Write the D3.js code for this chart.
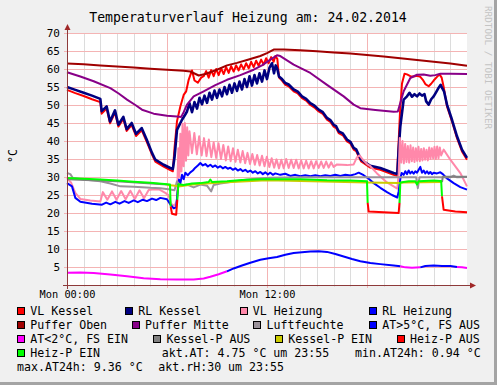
<!DOCTYPE html>
<html><head><meta charset="utf-8">
<script src="https://cdn.jsdelivr.net/npm/d3@7"></script>
<style>body{margin:0;background:#f0f0f0}svg{display:block}</style>
</head><body><svg id="c" width="497" height="385"></svg>
<script>
const title = "Temperaturverlauf Heizung am: 24.02.2014";
const unitLabel = "°C";
const watermark = "RRDTOOL / TOBI OETIKER";
const yTicks = [5,10,15,20,25,30,35,40,45,50,55,60,65,70];
const xTickHours = [0,12];
const xTickLabels = ["Mon 00:00","Mon 12:00"];
const legendNames = ["VL Kessel","RL Kessel","VL Heizung","RL Heizung","Puffer Oben","Puffer Mitte","Luftfeuchte","AT>5°C, FS AUS","AT<2°C, FS EIN","Kessel-P AUS","Kessel-P EIN","Heiz-P AUS","Heiz-P EIN"];
const legendColors = ["#ff0000","#000080","#ff88aa","#0000ff","#a00000","#880088","#9a929a","#0000ff","#ff00ff","#808080","#cccc00","#ff0000","#00ff00"];
const infoTexts = ["akt.AT: 4.75 °C um 23:55","min.AT24h: 0.94 °C","max.AT24h: 9.36 °C","akt.rH:30 um 23:55"];

// [hour, value]
const vlKessel = [[0,54.2],[0.5,53.3],[1,52.5],[1.5,51.6],[2.0,50.8],[2.08,47.6],[2.38,49.0],[2.58,44.9],[2.88,47.9],[3.08,44.0],[3.38,46.1],[3.58,42.8],[3.88,44.4],[4.14,41.4],[4.48,43.0],[4.78,39.8],[5.1,36.2],[5.3,34.3],[5.8,32.9],[6.2,31.9],[6.35,31.6],[6.45,38.0],[6.6,45.5],[6.8,49.6],[7.0,52.8],[7.15,53.8],[7.3,57.0],[7.5,59.6],[7.65,56.8],[7.85,56.2],[8.05,57.6],[8.2,58.0],[8.35,59.4],[8.5,57.6],[8.65,59.7],[8.8,58.0],[8.95,60.0],[9.1,58.3],[9.25,60.2],[9.4,58.6],[9.55,60.5],[9.7,58.9],[9.85,60.8],[10.0,59.3],[10.15,61.0],[10.3,59.6],[10.45,61.3],[10.6,59.9],[10.75,61.6],[10.9,60.2],[11.05,62.0],[11.2,60.5],[11.35,62.3],[11.5,60.9],[11.65,62.6],[11.8,61.2],[11.95,63.0],[12.1,61.6],[12.25,63.3],[12.4,62.0],[12.5,63.6],[12.62,62.8],[12.72,57.6],[12.9,56.8],[13.1,55.6],[13.3,55.2],[13.6,53.8],[13.85,53.2],[14.1,51.9],[14.35,51.2],[14.6,50.0],[14.85,49.3],[15.1,48.2],[15.35,47.5],[15.6,45.9],[15.8,45.3],[16.0,44.0],[16.15,43.6],[16.3,42.2],[16.55,41.6],[16.8,39.9],[17.0,39.3],[17.2,37.6],[17.35,37.2],[17.5,35.7],[17.65,34.3],[18.2,32.6],[18.8,32.0],[19.2,31.3],[19.6,30.6],[19.8,30.3],[19.88,38.0],[19.98,48.0],[20.1,56.0],[20.25,58.7],[20.4,58.5],[20.6,58.0],[20.8,57.9],[21.0,58.1],[21.2,57.8],[21.35,57.0],[21.5,55.8],[21.7,55.2],[21.85,55.9],[22.0,56.8],[22.2,57.8],[22.35,58.5],[22.48,57.6],[22.6,55.0],[22.8,49.6],[23.1,45.4],[23.4,40.8],[23.7,37.1],[24,34.8]];
const rlKessel = [[0,55.0],[0.5,54.2],[1,53.4],[1.5,52.6],[2.0,51.7],[2.08,48.3],[2.38,49.6],[2.58,45.4],[2.88,48.5],[3.08,44.5],[3.38,46.7],[3.58,43.3],[3.88,45.0],[4.14,42.0],[4.48,43.6],[4.78,40.4],[5.1,36.7],[5.3,34.8],[5.8,33.4],[6.2,32.5],[6.35,32.2],[6.45,35.4],[6.6,43.1],[6.9,45.9],[7.05,47.0],[7.2,48.2],[7.35,50.5],[7.5,48.0],[7.65,50.8],[7.8,49.0],[7.95,52.0],[8.1,50.2],[8.25,52.6],[8.4,50.6],[8.55,53.4],[8.7,51.5],[8.85,54.0],[9.0,52.0],[9.15,54.3],[9.3,52.4],[9.45,55.0],[9.6,53.0],[9.75,55.6],[9.9,53.4],[10.05,56.0],[10.2,53.9],[10.35,56.5],[10.5,54.3],[10.65,57.2],[10.8,55.0],[10.95,58.0],[11.1,55.4],[11.25,58.3],[11.4,56.0],[11.55,58.8],[11.7,56.5],[11.85,59.6],[12.0,57.2],[12.15,60.4],[12.3,61.6],[12.42,58.8],[12.52,61.0],[12.62,60.0],[12.72,57.9],[12.9,57.2],[13.1,56.1],[13.3,55.7],[13.6,54.3],[13.85,53.7],[14.1,52.4],[14.35,51.7],[14.6,50.5],[14.85,49.8],[15.1,48.7],[15.35,48.0],[15.6,46.4],[15.8,45.8],[16.0,44.5],[16.15,44.1],[16.3,42.7],[16.55,42.1],[16.8,40.4],[17.0,39.8],[17.2,38.1],[17.35,37.7],[17.5,36.2],[17.65,34.8],[18.2,33.1],[18.8,32.5],[19.2,31.8],[19.6,31.1],[19.82,30.8],[19.9,37.6],[20.0,44.1],[20.2,51.5],[20.4,52.4],[20.55,53.4],[20.7,52.3],[20.85,53.0],[21.0,52.4],[21.15,53.2],[21.3,52.6],[21.45,53.0],[21.55,51.0],[21.7,50.1],[21.85,51.6],[22.0,52.4],[22.15,53.6],[22.3,54.8],[22.42,55.6],[22.52,54.6],[22.62,53.8],[22.8,50.1],[23.1,45.9],[23.4,41.3],[23.7,37.6],[24,35.3]];
const vlHeizung = [[0,29.7],[0.25,28.4],[0.5,25.6],[0.8,23.9],[1.4,23.5],[2.0,23.2],[2.15,25.8],[2.42,23.7],[2.7,26.0],[2.97,23.7],[3.25,26.1],[3.52,23.8],[3.8,26.2],[4.07,23.9],[4.35,26.3],[4.62,24.1],[4.9,26.4],[5.1,26.5],[5.5,26.6],[5.9,25.6],[6.1,24.9],[6.25,22.5],[6.45,22.0],[6.6,23.5],[6.68,38.0],[6.74,30.0],[6.8,42.0],[6.87,31.5],[6.93,44.8],[7.0,33.0],[7.07,45.0],[7.14,34.5],[7.21,43.8],[7.28,36.0],[7.35,42.7],[7.5,36.6],[7.64,42.2],[7.79,36.3],[7.93,41.3],[8.08,36.0],[8.22,40.8],[8.37,35.8],[8.51,40.4],[8.66,35.5],[8.8,39.6],[8.95,35.3],[9.09,39.4],[9.24,35.0],[9.38,38.9],[9.53,34.6],[9.67,38.5],[9.82,34.4],[9.96,38.0],[10.11,34.2],[10.25,37.6],[10.4,34.0],[10.54,37.2],[10.69,33.8],[10.83,36.7],[10.98,33.6],[11.12,36.4],[11.27,33.4],[11.41,36.1],[11.56,33.2],[11.7,35.9],[11.85,33.0],[11.99,35.6],[12.14,32.8],[12.28,35.2],[12.43,32.6],[12.57,34.9],[12.72,32.4],[12.86,34.8],[13.0,32.4],[13.15,35.0],[13.3,32.5],[13.45,34.8],[13.6,32.5],[13.75,34.8],[13.9,32.4],[14.05,34.6],[14.2,32.4],[14.35,34.5],[14.5,32.4],[14.65,34.4],[14.8,32.4],[14.95,34.4],[15.1,32.5],[15.25,34.3],[15.4,32.5],[15.55,34.3],[15.7,32.6],[15.85,34.1],[16.0,32.8],[16.2,33.5],[16.8,33.3],[17.2,33.5],[17.4,35.5],[17.55,36.0],[17.75,34.8],[18.0,33.6],[18.2,33.0],[18.6,31.0],[19.2,28.5],[19.82,26.8],[19.9,31.0],[19.97,40.8],[20.05,34.0],[20.13,40.0],[20.21,33.8],[20.29,39.2],[20.37,34.2],[20.45,38.6],[20.53,34.0],[20.61,38.8],[20.69,34.4],[20.77,38.2],[20.85,34.2],[20.93,38.0],[21.01,34.5],[21.09,38.4],[21.17,34.4],[21.25,37.8],[21.33,34.6],[21.41,38.0],[21.49,34.8],[21.57,37.6],[21.65,34.6],[21.73,38.2],[21.81,35.0],[21.89,38.0],[21.97,35.2],[22.05,38.4],[22.13,35.0],[22.21,38.5],[22.29,35.2],[22.37,38.2],[22.45,36.0],[22.6,37.6],[23.0,34.8],[23.6,31.1],[24,27.4]];
const rlHeizung = [[0,28.3],[0.3,27.4],[0.5,24.2],[0.8,23.1],[1.5,22.6],[2.1,22.3],[2.35,22.9],[2.6,22.4],[2.9,23.1],[3.15,22.6],[3.45,23.3],[3.7,22.8],[4.0,23.5],[4.25,23.0],[4.55,23.7],[4.8,23.3],[5.1,24.0],[5.35,23.6],[5.6,24.2],[6.0,23.8],[6.2,22.4],[6.4,21.3],[6.55,21.6],[6.62,25.1],[6.72,29.3],[6.8,28.2],[6.9,30.6],[7.0,29.4],[7.1,31.2],[7.25,30.5],[7.4,31.3],[7.55,31.8],[7.7,32.6],[7.85,33.2],[8.0,33.9],[8.15,33.2],[8.3,33.6],[8.45,32.9],[8.6,33.4],[8.75,32.8],[8.9,33.2],[9.05,32.6],[9.2,33.0],[9.35,32.4],[9.5,32.8],[9.65,32.3],[9.8,32.6],[9.95,32.0],[10.1,32.4],[10.25,31.8],[10.4,32.2],[10.55,31.6],[10.7,32.0],[10.85,31.4],[11.0,31.8],[11.15,31.2],[11.3,31.6],[11.45,31.0],[11.6,31.4],[11.75,30.8],[11.9,31.3],[12.05,30.7],[12.2,31.2],[12.35,30.6],[12.5,31.0],[12.8,30.6],[13.1,30.9],[13.4,30.3],[13.7,30.6],[14.0,30.2],[14.3,30.5],[14.6,30.2],[14.9,30.5],[15.2,30.2],[15.5,30.5],[15.8,30.3],[16.1,30.6],[16.4,30.3],[16.7,30.6],[17.0,30.4],[17.3,30.8],[17.5,31.2],[17.8,30.5],[18.1,29.5],[18.4,28.3],[18.8,27.0],[19.2,25.8],[19.5,25.0],[19.82,24.3],[19.9,26.0],[20.0,29.5],[20.08,31.1],[20.2,30.6],[20.3,31.6],[20.4,30.8],[20.5,31.8],[20.6,31.0],[20.7,31.5],[20.8,30.9],[20.9,31.6],[21.0,31.2],[21.1,32.0],[21.2,32.8],[21.3,31.2],[21.4,31.8],[21.5,31.0],[21.6,31.6],[21.7,30.9],[21.8,31.4],[21.9,30.8],[22.0,31.2],[22.2,31.0],[22.4,31.3],[22.55,30.8],[22.8,29.6],[23.2,28.3],[23.6,27.2],[24,26.5]];
const pufferOben = [[0,61.5],[1,61.3],[2,61.0],[3,60.7],[4,60.4],[5,60.1],[6,59.8],[7,59.5],[7.4,59.3],[7.9,58.2],[8.3,58.6],[9,59.8],[9.6,61.0],[10.2,61.7],[10.8,62.5],[11.6,63.6],[12.0,64.4],[12.4,65.4],[13,65.4],[14,65.2],[15,64.9],[16,64.6],[17,64.3],[18,63.9],[19,63.5],[20,63.0],[21,62.5],[22,62.0],[23,61.5],[24,60.9]];
const pufferMitte = [[0,59.1],[0.8,57.9],[1.6,56.6],[2.6,54.7],[3.1,53.2],[3.6,51.5],[4.1,50.0],[4.5,48.7],[5.2,47.6],[6.0,47.0],[6.6,46.8],[6.85,46.7],[7.0,48.0],[7.2,50.1],[7.6,52.4],[8.2,53.8],[8.9,55.5],[9.6,57.0],[10.4,58.3],[11.2,59.8],[11.7,61.0],[12.2,62.6],[12.6,63.8],[12.8,63.6],[13.2,62.4],[13.6,61.2],[14.6,58.9],[15.6,55.6],[16.6,52.4],[17.2,50.1],[17.6,49.1],[18.5,48.6],[19.6,48.1],[19.85,48.2],[20.2,53.8],[20.6,57.5],[21.0,58.4],[21.4,58.5],[21.8,58.1],[22.1,58.3],[22.4,58.7],[23,58.7],[24,58.6]];
const luftfeuchte = [[0,31.1],[0.2,30.8],[0.35,29.7],[1,29.3],[2,28.8],[2.6,28.2],[3.2,27.4],[4,27.3],[5,27.0],[5.6,26.9],[6.2,26.5],[6.45,26.3],[6.6,28.8],[6.8,27.6],[7.2,27.9],[7.6,27.1],[8.0,27.9],[8.4,27.6],[8.65,26.0],[8.8,27.8],[9.2,28.2],[9.6,28.5],[10.2,28.9],[10.8,29.3],[11.5,29.6],[12.2,29.8],[14,29.9],[16,29.9],[18,29.9],[20,29.9],[20.95,29.9],[21.05,26.9],[21.15,29.9],[23.0,29.9],[23.2,30.4],[23.4,29.9],[24,30.0]];
// [hour, value, state]  state 1 = AT>5 (FS AUS), 0 = AT<2 (FS EIN)
const aussenTemp = [[0,3.4,0],[0.8,3.5,0],[1.6,3.3,0],[2.6,2.9,0],[3.6,2.4,0],[4.6,1.9,0],[5.6,1.6,0],[6.6,1.5,0],[7.6,1.5,0],[8.2,1.8,0],[8.6,2.3,0],[9.1,3.0,0],[9.6,3.8,0],[10.0,4.6,1],[10.5,5.4,1],[11.0,6.2,1],[11.6,7.0,1],[12.1,7.4,1],[12.6,7.8,1],[13.1,8.4,1],[13.6,8.9,1],[14.1,9.1,1],[14.6,9.3,1],[15.1,9.36,1],[15.6,9.2,1],[16.1,8.6,1],[16.6,7.9,1],[17.1,7.2,1],[17.6,6.6,1],[18.2,6.1,1],[18.8,5.8,1],[19.6,5.4,1],[20.0,5.2,1],[20.3,4.9,0],[20.7,4.8,0],[21.2,4.9,0],[21.5,5.3,1],[22.0,5.4,1],[22.5,5.3,1],[23.0,5.3,1],[23.4,5.0,1],[23.7,4.9,0],[24,4.75,0]];
// [hour, value, state] state 1 = EIN, 0 = AUS
const kesselPumpe = [[0,29.4,0],[3,28.8,0],[6.0,27.9,0],[6.05,27.8,1],[6.8,27.4,1],[7.5,27.9,1],[9,28.4,1],[12,29.1,1],[14,28.9,1],[16,28.7,1],[18,28.5,1],[19.9,28.3,1],[20.2,28.5,1],[22.5,28.6,1],[22.55,30.1,0],[24,30.1,0]];
const heizPumpe = [[0,29.7,1],[1,29.5,1],[2,29.3,1],[3,29.0,1],[4,28.7,1],[5,28.4,1],[6.0,28.0,1],[6.18,27.9,1],[6.22,21.8,1],[6.3,19.8,0],[6.55,19.5,0],[6.62,23.7,0],[6.68,28.0,1],[7.0,27.8,1],[7.5,28.2,1],[8.0,28.3,1],[8.5,28.6,1],[8.6,29.3,1],[8.7,28.6,1],[9.6,28.8,1],[10.5,29.2,1],[11.6,29.4,1],[13,29.4,1],[14,29.4,1],[15.6,29.1,1],[17,29.0,1],[18.0,28.8,1],[18.04,22.8,1],[18.1,20.4,0],[19,20.2,0],[19.9,20.0,0],[19.95,22.8,0],[20.0,28.5,1],[20.5,28.8,1],[20.9,28.8,1],[21.0,27.9,1],[21.1,28.8,1],[22,29.0,1],[22.45,28.9,1],[22.5,24.6,1],[22.6,20.9,0],[23.3,20.4,0],[24,20.2,0]];

const W = 497, H = 385;
const L = 67, R = 467, T = 33, B = 285;
const svg = d3.select("#c");
const mono = "'DejaVu Sans Mono', monospace";
const x = d3.scaleLinear().domain([0,24]).range([L,R]);
const y = d3.scaleLinear().domain([0,70]).range([B,T]);

svg.append("rect").attr("width",W).attr("height",H).attr("fill","#f0f0f0");
svg.append("rect").attr("x",W-3).attr("y",0).attr("width",3).attr("height",H).attr("fill","#a4a4a4");
svg.append("rect").attr("x",0).attr("y",H-3).attr("width",W).attr("height",3).attr("fill","#a4a4a4");
svg.append("rect").attr("x",L).attr("y",T).attr("width",R-L).attr("height",B-T).attr("fill","#ffffff");

// grid
const g = svg.append("g").attr("shape-rendering","crispEdges");
const hours = d3.range(1,24);
g.selectAll(".vmin").data(hours.filter(h => h % 6 !== 0)).join("line")
  .attr("x1",d=>Math.round(x(d))+0.5).attr("x2",d=>Math.round(x(d))+0.5)
  .attr("y1",T).attr("y2",B+2).attr("stroke","#dcdcdc");
g.selectAll(".vmaj").data(hours.filter(h => h % 6 === 0)).join("line")
  .attr("x1",d=>Math.round(x(d))+0.5).attr("x2",d=>Math.round(x(d))+0.5)
  .attr("y1",T).attr("y2",B+3).attr("stroke","#f4b4b4");
g.selectAll(".hmaj").data(yTicks).join("line")
  .attr("x1",L-3).attr("x2",R).attr("y1",d=>Math.round(y(d))+0.5).attr("y2",d=>Math.round(y(d))+0.5)
  .attr("stroke","#f4b4b4");

// axes labels via d3 axes
const yAxis = d3.axisLeft(y).tickValues(yTicks).tickSize(0).tickPadding(7);
const ya = svg.append("g").attr("transform",`translate(${L},0)`).call(yAxis);
ya.select(".domain").remove();
ya.selectAll("text").attr("font-family",mono).attr("font-size","11px").attr("fill","#000");
const xAxis = d3.axisBottom(x).tickValues(xTickHours).tickFormat((d,i)=>xTickLabels[i]).tickSize(0).tickPadding(6);
const xa = svg.append("g").attr("transform",`translate(0,${B})`).call(xAxis);
xa.select(".domain").remove();
xa.selectAll("text").attr("font-family",mono).attr("font-size","10.3px").attr("fill","#000");

// series
const line = d3.line().x(d=>x(d[0])).y(d=>y(d[1]));
const plot = svg.append("g").attr("fill","none").attr("stroke-linejoin","round").attr("stroke-linecap","butt");
function drawPlain(data, color, w){
  plot.append("path").datum(data).attr("d",line).attr("stroke",color).attr("stroke-width",w);
}
function drawState(data, colorOn, colorOff, w){
  const runs = [];
  let cur = null;
  for (let i=1;i<data.length;i++){
    const s = data[i][2];
    if (!cur || cur.s !== s){ cur = {s, pts:[data[i-1]]}; runs.push(cur); }
    cur.pts.push(data[i]);
  }
  runs.forEach(r => plot.append("path").datum(r.pts).attr("d",line)
    .attr("stroke", r.s ? colorOn : colorOff).attr("stroke-width",w));
}
drawPlain(vlKessel, legendColors[0], 2);
drawPlain(rlKessel, legendColors[1], 2.6);
drawPlain(vlHeizung, legendColors[2], 2);
drawPlain(rlHeizung, legendColors[3], 2);
drawPlain(pufferOben, legendColors[4], 2);
drawPlain(pufferMitte, legendColors[5], 2);
drawPlain(luftfeuchte, legendColors[6], 2);
drawState(aussenTemp, legendColors[7], legendColors[8], 2);
drawState(kesselPumpe, legendColors[10], legendColors[9], 2);
drawState(heizPumpe, legendColors[12], legendColors[11], 2);

// axis lines with arrows
const axc = "#8e3a3a";
svg.append("line").attr("x1",L+0.5).attr("x2",L+0.5).attr("y1",B+4).attr("y2",T-5).attr("stroke",axc).attr("shape-rendering","crispEdges");
svg.append("line").attr("x1",L-4).attr("x2",R+4).attr("y1",B+0.5).attr("y2",B+0.5).attr("stroke",axc).attr("shape-rendering","crispEdges");
svg.append("path").attr("d",`M${L-2.5},${T-3} L${L+3.5},${T-3} L${L+0.5},${T-9} Z`).attr("fill","#a02828");
svg.append("path").attr("d",`M${R+3},${B-2.5} L${R+3},${B+3.5} L${R+9},${B+0.5} Z`).attr("fill","#a02828");

// title, unit, watermark
svg.append("text").attr("x",248).attr("y",22).attr("text-anchor","middle")
  .attr("font-family",mono).attr("font-size","13.2px").attr("fill","#000").text(title);
svg.append("text").attr("transform","translate(17,156) rotate(-90)").attr("text-anchor","middle")
  .attr("font-family",mono).attr("font-size","11.6px").attr("fill","#000").text(unitLabel);
svg.append("text").attr("transform","translate(484.5,6) rotate(90)")
  .attr("font-family",mono).attr("font-size","9.3px").attr("fill","#c4c4c4").text(watermark);

// legend
const legPos = [[17,311],[125,311],[239.5,311],[369,311],[17,325],[131.7,325],[253.3,325],[369,325],[17,339],[153.3,339],[275,339],[396.7,339],[17,353]];
const leg = svg.append("g");
legendNames.forEach((n,i)=>{
  const [lx,ly] = legPos[i];
  leg.append("rect").attr("x",lx+0.5).attr("y",ly-3.5).attr("width",7).attr("height",7)
    .attr("fill",legendColors[i]).attr("stroke","#000").attr("stroke-width",1).attr("shape-rendering","crispEdges");
  leg.append("text").attr("x",lx+13.3).attr("y",ly+4).attr("font-family",mono).attr("font-size","11.6px").attr("fill","#000").text(n);
});
const infoPos = [[161.7,353],[355,353],[17,367],[158.3,367]];
infoTexts.forEach((t,i)=>{
  leg.append("text").attr("x",infoPos[i][0]).attr("y",infoPos[i][1]+4).attr("font-family",mono).attr("font-size","11.6px").attr("fill","#000").text(t);
});
</script></body></html>
